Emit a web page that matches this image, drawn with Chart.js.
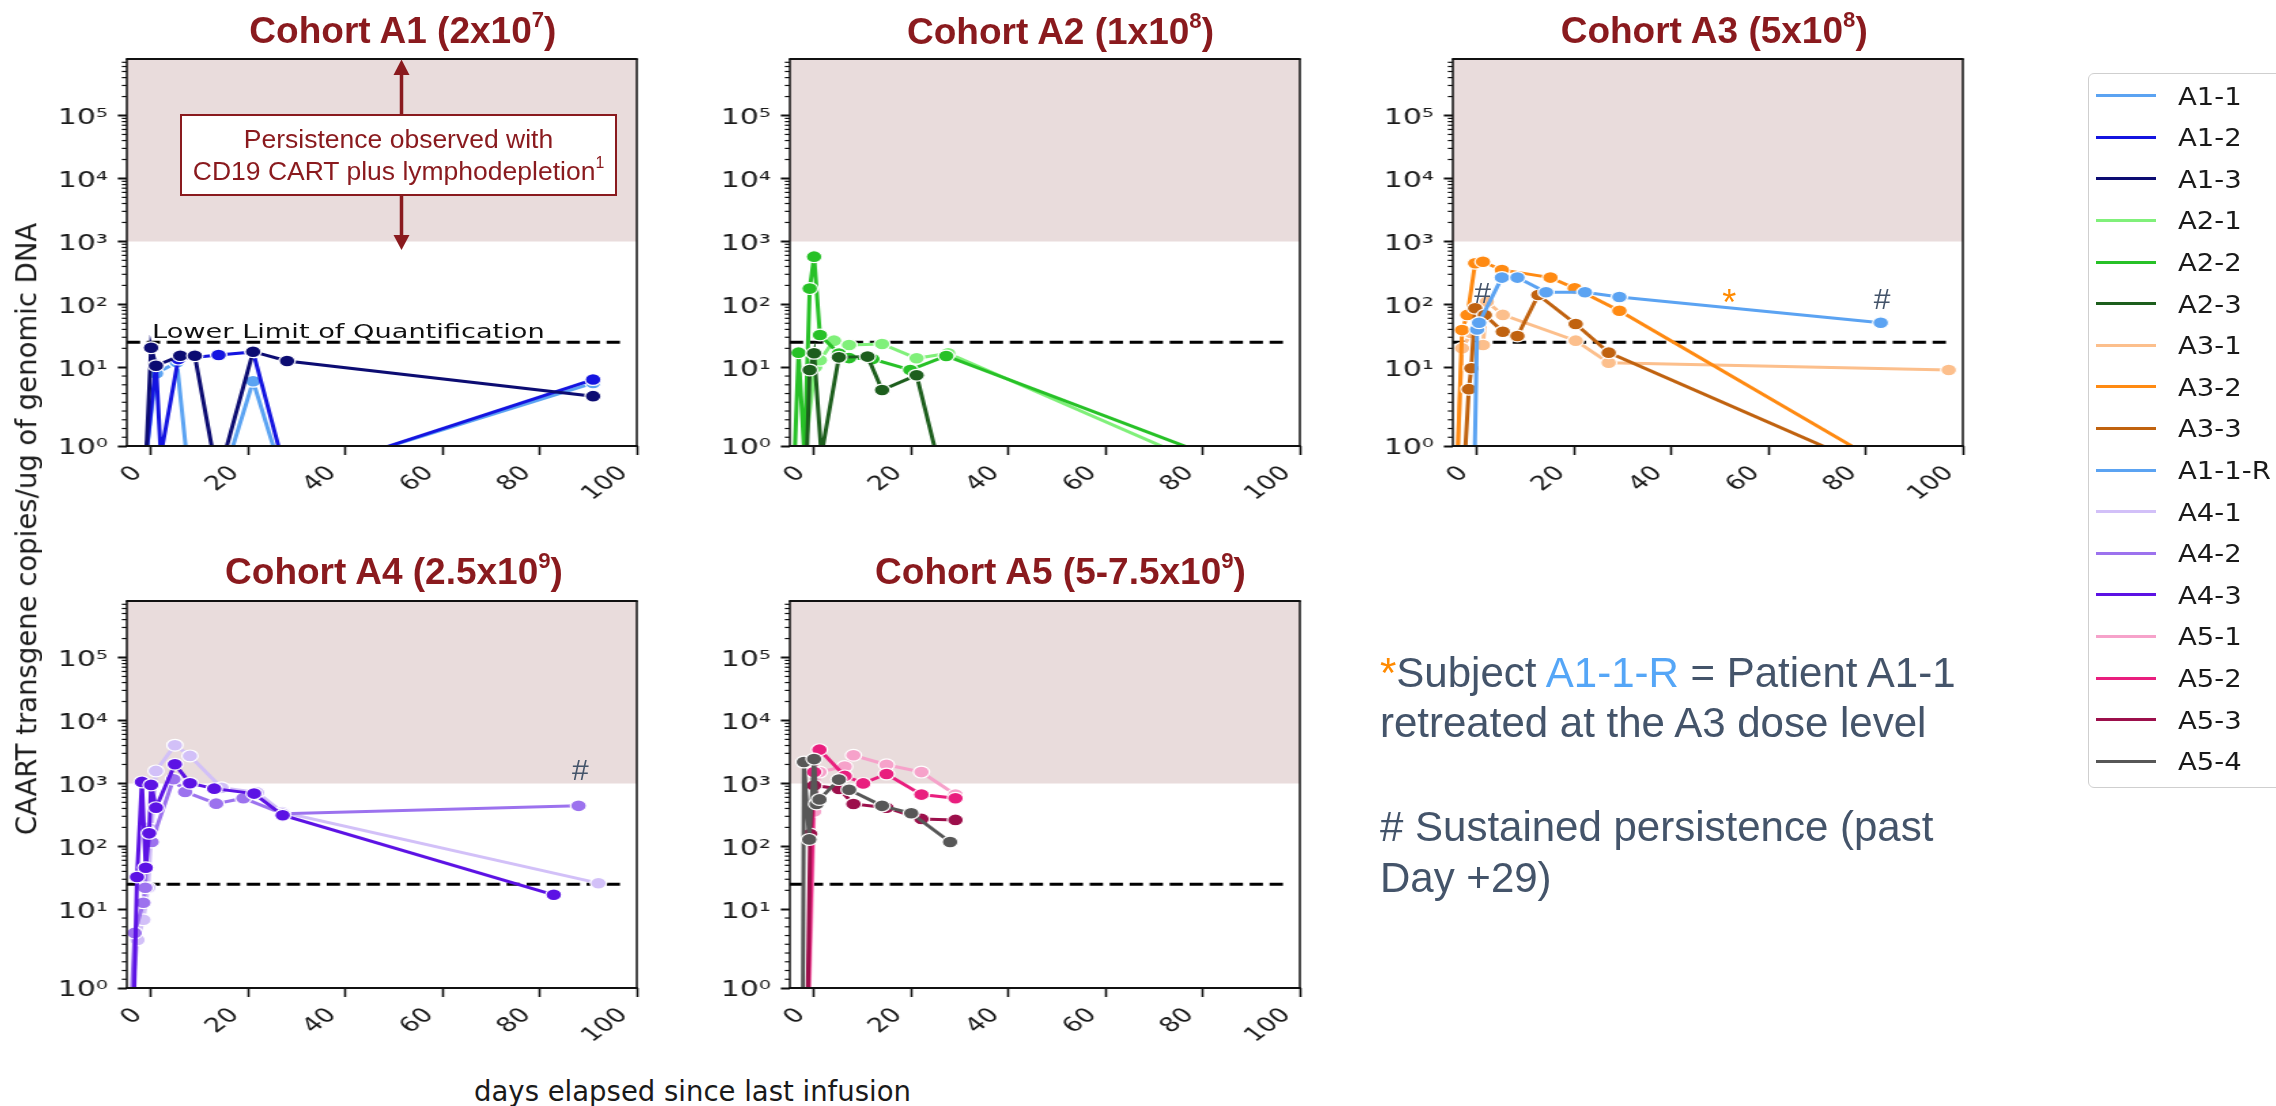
<!DOCTYPE html>
<html>
<head>
<meta charset="utf-8">
<script src="https://cdn.jsdelivr.net/npm/chart.js@4.4.1/dist/chart.umd.min.js"></script>
<style>
html, body { margin: 0; padding: 0; background: #fff; overflow: hidden; }
#page { position: relative; width: 2276px; height: 1106px; overflow: hidden; background: #fff; }
.panel { position: absolute; transform-origin: 0 0; }
.txt { position: absolute; white-space: nowrap; line-height: 1; }
.sup { font-size: 0.6em; position: relative; top: -0.72em; }
.sup2 { font-size: 0.6em; position: relative; top: -0.75em; }
</style>
</head>
<body>
<div id="page"></div>
<script>
// ---------------- DATA ----------------
const X_MIN = -5, X_MAX = 100;
const X_TICKS = [0, 20, 40, 60, 80, 100];
const Y_MIN = 1, Y_MAX = 7.9e5;
const Y_TICKS = [1, 10, 100, 1000, 10000, 100000];
const Y_TICK_LABELS = ['10\u2070', '10\u00B9', '10\u00B2', '10\u00B3', '10\u2074', '10\u2075'];
const LLOQ = 25;
const LLOQ_X_END = 97;
const PERSISTENCE_LEVEL = 1000;

const COHORT_NAMES = ['A1', 'A2', 'A3', 'A4', 'A5'];
const COHORT_DOSE_BASE = ['2x10', '1x10', '5x10', '2.5x10', '5-7.5x10'];
const COHORT_DOSE_EXP = ['7', '8', '8', '9', '9'];

const SERIES_NAMES = ['A1-1', 'A1-2', 'A1-3', 'A2-1', 'A2-2', 'A2-3', 'A3-1', 'A3-2', 'A3-3', 'A1-1-R', 'A4-1', 'A4-2', 'A4-3', 'A5-1', 'A5-2', 'A5-3', 'A5-4'];
const SERIES_COLORS = ['#5ba3f2', '#1414e0', '#0c0c72', '#80f07a', '#27c127', '#1d5e1d', '#fcbf8c', '#ff8a12', '#c0620f', '#5ba3f2', '#d2c0f8', '#9c72ee', '#5c12e4', '#f6a2ca', '#e91e7e', '#9c0f4b', '#575757'];
const SERIES_PANEL = [0, 0, 0, 1, 1, 1, 2, 2, 2, 2, 3, 3, 3, 4, 4, 4, 4];

const A1_1_DAYS = [-1, 1, 5.3, 7.3, 16.3, 21, 25.7, 43.5, 91];
const A1_1_VALUES = [0, 9.3, 12, 0, 0, 8.4, 0, 0, 8.2];
const A1_2_DAYS = [-1, 1, 2.0, 5.6, 13.9, 21, 26.7, 43.5, 91];
const A1_2_VALUES = [0, 11, 0, 13.5, 15.7, 17.5, 0, 0, 8.6];
const A1_3_DAYS = [-1, 0, 1, 6, 9, 12.8, 15.1, 21, 28, 91];
const A1_3_VALUES = [0, 20.5, 10.6, 15.3, 15.3, 0, 0, 17.7, 12.6, 6.7];

const A2_1_DAYS = [-2, 0.2, 1.2, 4.1, 7.2, 14, 21.1, 27.6, 75.6];
const A2_1_VALUES = [0, 10, 13, 26.5, 22.6, 23.5, 13.9, 16.7, 0];
const A2_2_DAYS = [-4, -3.2, -2, -0.9, 0, 1.2, 5.1, 7.2, 12, 19.8, 27.2, 81];
const A2_2_VALUES = [0, 17.1, 0, 178, 573, 32.6, 16.5, 14, 13.5, 9.7, 15.1, 0];
const A2_3_DAYS = [-1.5, -0.9, 0, 1.5, 5.1, 11, 14, 21.1, 25.2];
const A2_3_VALUES = [0, 9.7, 16.7, 0, 14.4, 14.8, 7.4, 9.1, 0];

const A3_1_DAYS = [-4, -3.1, -1.2, 1.2, 2, 5.3, 20.3, 27.1, 97.1];
const A3_1_VALUES = [0, 20, 35, 22.6, 110, 68, 26.5, 11.8, 9.7];
const A3_2_DAYS = [-4, -3.1, -2, -0.4, 1.2, 5.1, 15.1, 20.1, 29.3, 80.2];
const A3_2_VALUES = [0, 39, 68, 450, 475, 352, 266, 180, 79, 0];
const A3_3_DAYS = [-2.5, -1.7, -1.2, -0.4, 1.6, 5.3, 8.3, 12.6, 20.3, 27.1, 75.3];
const A3_3_VALUES = [0, 7.5, 9.9, 86.7, 67.8, 36.8, 31.4, 141, 48.8, 17.1, 0];
const A1_1_R_DAYS = [-0.5, 0, 0.4, 5.1, 8.3, 14.2, 22.2, 29.3, 83.1];
const A1_1_R_VALUES = [0, 40, 51, 266, 266, 156, 156, 131, 51];

const A4_1_DAYS = [-4, -2.8, -1.6, -0.6, 0.1, 1, 4.9, 8, 14.5, 21.8, 27, 92.1];
const A4_1_VALUES = [0, 6.5, 8.8, 22, 187, 1581, 4048, 2735, 850, 720, 350, 26];
const A4_2_DAYS = [-4, -3.4, -1.6, -1.2, -0.8, 0.1, 4.6, 7, 13.4, 19, 27.1, 88];
const A4_2_VALUES = [0, 7.3, 12.7, 22, 176, 117, 1167, 733, 477, 582, 330, 440];
const A4_3_DAYS = [-3.5, -2.9, -1.9, -1.1, -0.4, 0, 1, 4.9, 8, 13, 21.2, 27.1, 82.9];
const A4_3_VALUES = [0, 32.6, 1057, 45.8, 161, 947, 412, 2019, 1007, 826, 689, 312, 17];

const A5_1_DAYS = [-1, 0, 1.1, 6.3, 8.1, 14.9, 22.1, 29.1];
const A5_1_VALUES = [0, 359, 1513, 1853, 2800, 1980, 1513, 664];
const A5_2_DAYS = [-1.2, 0, 1.1, 6.3, 10.1, 14.9, 22.1, 29.1];
const A5_2_VALUES = [0, 1513, 3436, 1315, 1000, 1408, 664, 580];
const A5_3_DAYS = [-1.3, -0.8, 0, 5.1, 8.1, 14.9, 22.1, 29.1];
const A5_3_VALUES = [0, 157, 930, 817, 472, 412, 273, 263];
const A5_4_DAYS = [-2.3, -2.1, -1, 0, 0.5, 1.1, 5.1, 7.2, 14, 20, 28];
const A5_4_VALUES = [0, 2183, 129, 2432, 472, 557, 1149, 795, 440, 336, 117];

const SERIES_DAYS = [A1_1_DAYS, A1_2_DAYS, A1_3_DAYS, A2_1_DAYS, A2_2_DAYS, A2_3_DAYS, A3_1_DAYS, A3_2_DAYS, A3_3_DAYS, A1_1_R_DAYS, A4_1_DAYS, A4_2_DAYS, A4_3_DAYS, A5_1_DAYS, A5_2_DAYS, A5_3_DAYS, A5_4_DAYS];
const SERIES_VALUES = [A1_1_VALUES, A1_2_VALUES, A1_3_VALUES, A2_1_VALUES, A2_2_VALUES, A2_3_VALUES, A3_1_VALUES, A3_2_VALUES, A3_3_VALUES, A1_1_R_VALUES, A4_1_VALUES, A4_2_VALUES, A4_3_VALUES, A5_1_VALUES, A5_2_VALUES, A5_3_VALUES, A5_4_VALUES];

// ---------------- LAYOUT / STYLE ----------------
const S = 1.36;                       // horizontal stretch of the plot images
const PAD = { l: 80, r: 12, t: 12, b: 62 };
const PLOT_W = 510, PLOT_H = 387;
const PANEL_POS = [[126.7, 59.3], [789.5, 59.3], [1452.4, 59.3], [126.7, 601], [789.5, 601]];
const SHADE = '#e9dcdc';
const TITLE_COLOR = '#8a1a1e';
const NOTE_COLOR = '#44546a';
const INK = '#1a1a1a';

// minor tick positions for the y axis (axis decoration)
const Y_MINOR_TICKS = [];
for (let k = 0; k <= 5; k++) for (let m = 2; m <= 9; m++) { const v = m * Math.pow(10, k); if (v < Y_MAX) Y_MINOR_TICKS.push(v); }

// ---------------- symmetric-log scale ----------------
const LIN_T = 10, LIN_SCALE = 1.389;
function symT(v) { return v < LIN_T ? LIN_SCALE * v / LIN_T : LIN_SCALE + Math.log10(v / LIN_T); }
function symInv(t) { return t < LIN_SCALE ? t * LIN_T / LIN_SCALE : LIN_T * Math.pow(10, t - LIN_SCALE); }

class SymLogScale extends Chart.Scale {
  static id = 'symlog';
  static defaults = {};
  determineDataLimits() { this.min = this.options.min; this.max = this.options.max; }
  buildTicks() { return Y_TICKS.map(v => ({ value: v })); }
  getLabelForValue(v) { return String(v); }
  configure() { super.configure(); this._t0 = symT(this.min); this._t1 = symT(this.max); }
  getPixelForValue(v) {
    if (v === null || v === undefined || isNaN(v)) return NaN;
    return this.getPixelForDecimal((symT(v) - this._t0) / (this._t1 - this._t0));
  }
  getValueForPixel(p) { return symInv(this._t0 + this.getDecimalForPixel(p) * (this._t1 - this._t0)); }
}
Chart.register(SymLogScale);

const page = document.getElementById('page');

const framePlugin = {
  id: 'frame',
  afterDraw(chart) {
    const { ctx, chartArea: a, scales } = chart;
    const y = scales.y;
    ctx.save();
    ctx.strokeStyle = '#111';
    ctx.lineWidth = 1.2;
    for (const v of Y_MINOR_TICKS) {
      const py = y.getPixelForValue(v);
      ctx.beginPath(); ctx.moveTo(a.left - 5 / S, py); ctx.lineTo(a.left, py); ctx.stroke();
    }
    ctx.lineWidth = 2;
    ctx.beginPath(); ctx.moveTo(a.left - 1 / S, a.top); ctx.lineTo(a.right + 1 / S, a.top); ctx.stroke();
    ctx.beginPath(); ctx.moveTo(a.left - 1 / S, a.bottom); ctx.lineTo(a.right + 1 / S, a.bottom); ctx.stroke();
    ctx.lineWidth = 1.5;
    ctx.beginPath(); ctx.moveTo(a.left, a.top); ctx.lineTo(a.left, a.bottom); ctx.stroke();
    ctx.beginPath(); ctx.moveTo(a.right, a.top); ctx.lineTo(a.right, a.bottom); ctx.stroke();
    ctx.restore();
  }
};

function zeroPad(s) { s.paddingLeft = 0; s.paddingRight = 0; s.paddingTop = 0; s.paddingBottom = 0; }

function makePanel(p) {
  const [L, T] = PANEL_POS[p];
  const innerW = PLOT_W / S;
  const cw = Math.round(PAD.l + innerW + PAD.r);
  const ch = Math.round(PAD.t + PLOT_H + PAD.b);
  const wrap = document.createElement('div');
  wrap.className = 'panel';
  wrap.style.left = (L - PAD.l * S) + 'px';
  wrap.style.top = (T - PAD.t) + 'px';
  wrap.style.transform = 'scaleX(' + S + ')';
  const cv = document.createElement('canvas');
  cv.width = cw; cv.height = ch;
  cv.style.width = cw + 'px'; cv.style.height = ch + 'px';
  cv.style.display = 'block';
  wrap.appendChild(cv);
  page.appendChild(wrap);

  const datasets = [];
  datasets.push({
    label: 'persistence', data: [{ x: X_MIN, y: PERSISTENCE_LEVEL }, { x: X_MAX, y: PERSISTENCE_LEVEL }],
    fill: 'end', backgroundColor: SHADE, borderWidth: 0, borderColor: 'rgba(0,0,0,0)', pointRadius: 0, order: 100
  });
  datasets.push({
    label: 'LLOQ', data: [{ x: X_MIN, y: LLOQ }, { x: LLOQ_X_END, y: LLOQ }],
    borderColor: '#000', borderWidth: 3, borderDash: [9.8, 4.9], borderCapStyle: 'butt', pointRadius: 0, fill: false, order: 99
  });
  SERIES_NAMES.forEach((name, k) => {
    if (SERIES_PANEL[k] !== p) return;
    const days = SERIES_DAYS[k], vals = SERIES_VALUES[k];
    datasets.push({
      label: name,
      data: days.map((d, i) => ({ x: d, y: vals[i] })),
      borderColor: SERIES_COLORS[k], backgroundColor: SERIES_COLORS[k],
      pointBackgroundColor: SERIES_COLORS[k], pointBorderColor: '#ffffff',
      borderWidth: 3, pointRadius: 5.9, pointBorderWidth: 1.2, tension: 0,
      fill: false, clip: 0, order: 50 - k
    });
  });

  new Chart(cv, {
    type: 'line',
    data: { datasets },
    options: {
      responsive: false, animation: false, events: [],
      layout: { padding: { left: 0, right: PAD.r, top: PAD.t, bottom: 0 } },
      plugins: { legend: { display: false }, tooltip: { enabled: false } },
      scales: {
        x: {
          type: 'linear', min: X_MIN, max: X_MAX,
          afterBuildTicks: s => { s.ticks = X_TICKS.map(v => ({ value: v })); },
          afterFit: s => { s.height = PAD.b; zeroPad(s); },
          grid: { display: true, drawOnChartArea: false, drawTicks: true, tickLength: 9, tickWidth: 1.6, tickColor: '#111' },
          border: { display: false },
          ticks: { autoSkip: false, minRotation: 45, maxRotation: 45, padding: 6.7, labelOffset: -9.6, color: INK,
                   font: { family: 'DejaVu Sans', size: 20 } }
        },
        y: {
          type: 'symlog', min: Y_MIN, max: Y_MAX,
          afterFit: s => { s.width = PAD.l; zeroPad(s); },
          grid: { display: true, drawOnChartArea: false, drawTicks: true, tickLength: 9 / S, tickWidth: 2, tickColor: '#111' },
          border: { display: false },
          ticks: { autoSkip: false, padding: 7.2, labelOffset: 2.5, color: INK,
                   font: { family: 'DejaVu Sans', size: 22 },
                   callback: (v, i) => Y_TICK_LABELS[i] }
        }
      }
    },
    plugins: [framePlugin]
  });
}
for (let p = 0; p < 5; p++) makePanel(p);

// ---------------- text overlays ----------------
function addText(html, x, baseline, size, family, color, opts) {
  opts = opts || {};
  const d = document.createElement('div');
  d.className = 'txt';
  d.innerHTML = html;
  d.style.fontFamily = family;
  d.style.fontSize = size + 'px';
  d.style.color = color;
  if (opts.bold) d.style.fontWeight = 'bold';
  d.style.left = x + 'px';
  d.style.top = (baseline - 0.846 * size) + 'px';
  let tf = '';
  if (opts.center) tf += 'translateX(-50%) ';
  if (opts.sx) tf += 'scaleX(' + opts.sx + ')';
  if (tf) { d.style.transform = tf; d.style.transformOrigin = opts.center ? '50% 0' : '0 0'; }
  page.appendChild(d);
  return d;
}
const ARIAL = "'Liberation Sans', Arial, sans-serif";
const DEJAVU = "'DejaVu Sans', sans-serif";

// cohort titles
const TITLE_CX = [402.9, 1060.5, 1714.2, 394, 1060.5];
const TITLE_BASE = [43, 44, 43, 584.3, 584.3];
COHORT_NAMES.forEach((c, i) => {
  addText('Cohort ' + c + ' (' + COHORT_DOSE_BASE[i] + '<span class="sup">' + COHORT_DOSE_EXP[i] + '</span>)',
    TITLE_CX[i], TITLE_BASE[i], 37, ARIAL, TITLE_COLOR, { bold: true, center: true });
});

// axis titles
const yt = document.createElement('div');
yt.className = 'txt';
yt.textContent = 'CAART transgene copies/ug of genomic DNA';
yt.style.fontFamily = DEJAVU; yt.style.fontSize = '27.5px'; yt.style.color = INK;
yt.style.left = '26.5px'; yt.style.top = '528.5px';
yt.style.transform = 'translate(-50%,-50%) rotate(-90deg)';
page.appendChild(yt);
addText('days elapsed since last infusion', 692.5, 1101, 27.5, DEJAVU, INK, { center: true });

// LLOQ label in cohort A1
addText('Lower Limit of Quantification', 151.7, 338, 20, DEJAVU, '#111', { sx: S });

// A1 annotation box and arrows
const svgNS = 'http://www.w3.org/2000/svg';
const svg = document.createElementNS(svgNS, 'svg');
svg.setAttribute('width', '2276'); svg.setAttribute('height', '1106');
svg.style.position = 'absolute'; svg.style.left = '0'; svg.style.top = '0';
svg.innerHTML =
  '<line x1="401.5" y1="114" x2="401.5" y2="72" stroke="' + TITLE_COLOR + '" stroke-width="3.5"/>' +
  '<polygon points="401.5,59.5 393.5,75 409.5,75" fill="' + TITLE_COLOR + '"/>' +
  '<line x1="401.5" y1="196" x2="401.5" y2="237" stroke="' + TITLE_COLOR + '" stroke-width="3.5"/>' +
  '<polygon points="401.5,250 393.5,235 409.5,235" fill="' + TITLE_COLOR + '"/>';
page.appendChild(svg);
const box = document.createElement('div');
box.style.cssText = 'position:absolute;left:180px;top:114px;width:437px;height:82px;border:2px solid ' + TITLE_COLOR + ';background:#fff;box-sizing:border-box;';
page.appendChild(box);
addText('Persistence observed with', 398.5, 148, 26.5, ARIAL, TITLE_COLOR, { center: true });
addText('CD19 CART plus lymphodepletion<span class="sup2">1</span>', 398.5, 180, 26.5, ARIAL, TITLE_COLOR, { center: true });

// markers # and *
addText('#', 1482.5, 303.5, 30, ARIAL, NOTE_COLOR, { center: true });
addText('#', 1882, 309.5, 30, ARIAL, NOTE_COLOR, { center: true });
addText('#', 580.4, 780, 30, ARIAL, NOTE_COLOR, { center: true });
addText('*', 1729.3, 315.4, 36, ARIAL, '#ff8a00', { center: true });

// notes
addText('<span style="color:#ff8a00">*</span>Subject <span style="color:#55a6f7">A1-1-R</span> = Patient A1-1', 1380, 688, 42, ARIAL, NOTE_COLOR);
addText('retreated at the A3 dose level', 1380, 738, 42, ARIAL, NOTE_COLOR);
addText('# Sustained persistence (past', 1380, 841.7, 42, ARIAL, NOTE_COLOR);
addText('Day +29)', 1380, 892.7, 42, ARIAL, NOTE_COLOR);

// legend
const leg = document.createElement('div');
leg.style.cssText = 'position:absolute;left:2087.7px;top:72.7px;width:210px;height:715.6px;border:1.5px solid #cfcfcf;border-radius:6px;box-sizing:border-box;background:#fff;';
page.appendChild(leg);
SERIES_NAMES.forEach((name, i) => {
  const y = 95.7 + 41.6 * i;
  const ln = document.createElement('div');
  ln.style.cssText = 'position:absolute;left:2096px;width:60px;height:3px;top:' + (y - 1.5) + 'px;background:' + SERIES_COLORS[i] + ';';
  page.appendChild(ln);
  addText(name, 2177.7, y + 9.1, 25, DEJAVU, INK, { sx: 1.1 });
});
</script>
</body>
</html>
